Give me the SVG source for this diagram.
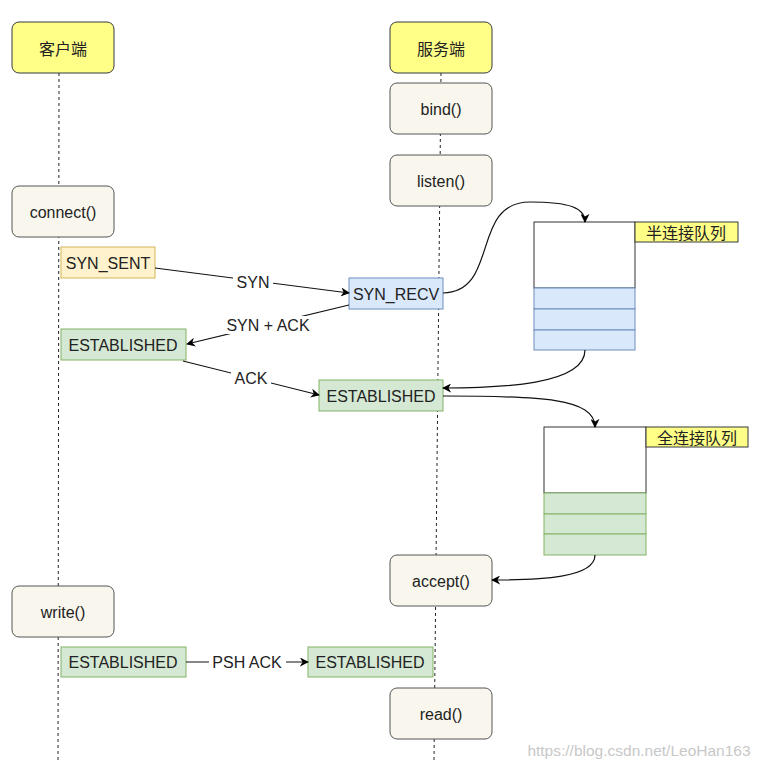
<svg xmlns="http://www.w3.org/2000/svg" width="761" height="768" viewBox="0 0 761 768">
<defs>
<marker id="ah" viewBox="0 0 10 10" refX="9" refY="5" markerWidth="9" markerHeight="9" markerUnits="userSpaceOnUse" orient="auto">
<path d="M0,0 L10,5 L0,10 L3,5 Z" fill="#000"/>
</marker>
<style>
text{font-family:"Liberation Sans","Noto Sans CJK SC",sans-serif;font-size:16px;fill:#222;text-anchor:middle;dominant-baseline:central}
.cjk{font-family:"Noto Sans CJK SC",sans-serif;font-size:16px}
.head{fill:#ffff88;stroke:#36393d;stroke-width:1}
.fn{fill:#f9f7ed;stroke:#555;stroke-width:1}
.life{stroke:#222;stroke-width:1;stroke-dasharray:3,3;fill:none}
.sent{fill:#fff2cc;stroke:#d6b656}
.recv{fill:#dae8fc;stroke:#6c8ebf}
.est{fill:#d5e8d4;stroke:#82b366}
.qbox{fill:#fff;stroke:#333}
.conn{stroke:#111;stroke-width:1.2;fill:none;marker-end:url(#ah)}
.lbl{fill:#fff}
</style>
</defs>
<rect width="761" height="768" fill="#fff"/>
<g id="lifelines">
<line class="life" x1="59" y1="73" x2="58" y2="760"/>
<line class="life" x1="441" y1="73" x2="434" y2="760"/>
</g>
<g id="client-head"><rect class="head" x="12" y="22" width="102" height="51" rx="7"/><text class="cjk" x="63" y="48">客户端</text></g>
<g id="server-head"><rect class="head" x="390" y="22" width="102" height="51" rx="7"/><text class="cjk" x="441" y="48">服务端</text></g>
<g id="bind"><rect class="fn" x="390" y="83" width="102" height="51" rx="7"/><text x="441" y="109">bind()</text></g>
<g id="listen"><rect class="fn" x="390" y="155" width="102" height="51" rx="7"/><text x="441" y="181">listen()</text></g>
<g id="connect"><rect class="fn" x="12" y="186" width="102" height="51" rx="7"/><text x="63" y="212">connect()</text></g>
<g id="syn-sent"><rect class="sent" x="61" y="247" width="94" height="31"/><text x="108" y="263">SYN_SENT</text></g>
<g id="syn-recv"><rect class="recv" x="349" y="278" width="94" height="31"/><text x="396" y="294">SYN_RECV</text></g>
<g id="est-client"><rect class="est" x="61" y="329" width="125" height="31"/><text x="123" y="345">ESTABLISHED</text></g>
<g id="est-server"><rect class="est" x="319" y="380" width="124" height="31"/><text x="381" y="396">ESTABLISHED</text></g>
<g id="half-queue">
<rect class="qbox" x="534" y="222" width="101" height="66"/>
<rect class="recv" x="534" y="288" width="101" height="21"/>
<rect class="recv" x="534" y="309" width="101" height="21"/>
<rect class="recv" x="534" y="330" width="101" height="20"/>
<rect class="head" x="635" y="222" width="103" height="20"/>
<text class="cjk" x="686" y="232">半连接队列</text>
</g>
<g id="full-queue">
<rect class="qbox" x="544" y="427" width="102" height="66"/>
<rect class="est" x="544" y="493" width="102" height="21"/>
<rect class="est" x="544" y="514" width="102" height="20"/>
<rect class="est" x="544" y="534" width="102" height="21"/>
<rect class="head" x="646" y="427" width="102" height="20"/>
<text class="cjk" x="697" y="437">全连接队列</text>
</g>
<g id="accept"><rect class="fn" x="390" y="555" width="102" height="51" rx="7"/><text x="441" y="581">accept()</text></g>
<g id="write"><rect class="fn" x="12" y="586" width="102" height="51" rx="7"/><text x="63" y="612">write()</text></g>
<g id="est-client2"><rect class="est" x="61" y="647" width="125" height="30"/><text x="123" y="662">ESTABLISHED</text></g>
<g id="est-server2"><rect class="est" x="308" y="647" width="125" height="30"/><text x="370" y="662">ESTABLISHED</text></g>
<g id="read"><rect class="fn" x="390" y="688" width="102" height="51" rx="7"/><text x="441" y="714">read()</text></g>
<g id="connectors">
<path class="conn" d="M155,268 L349,293"/>
<rect class="lbl" x="233" y="273" width="40" height="18"/><text x="253" y="282">SYN</text>
<path class="conn" d="M349,305 L187,344"/>
<rect class="lbl" x="222" y="316" width="92" height="18"/><text x="268" y="325">SYN + ACK</text>
<path class="conn" d="M183,361 L319,395"/>
<rect class="lbl" x="231" y="369" width="40" height="18"/><text x="251" y="378">ACK</text>
<path class="conn" d="M186,662 L308,662"/>
<rect class="lbl" x="209" y="653" width="77" height="18"/><text x="247" y="662">PSH ACK</text>
<path class="conn" d="M443,293 C500,292 470,202 530,202 C570,202 585,208 585,222"/>
<path class="conn" d="M585,350 C585,385 500,388 443,388"/>
<path class="conn" d="M443,396 C540,396 595,398 595,427"/>
<path class="conn" d="M595,555 C595,578 540,580 492,580"/>
</g>
<text x="639" y="750" style="fill:#c8c8c8;font-size:15.5px">https://blog.csdn.net/LeoHan163</text>
</svg>
